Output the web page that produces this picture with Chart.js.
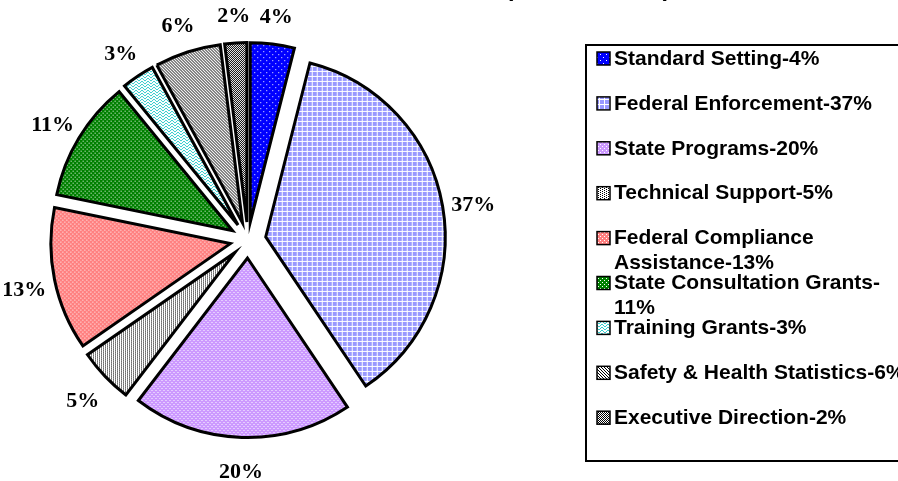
<!DOCTYPE html>
<html>
<head>
<meta charset="utf-8">
<script src="https://cdn.jsdelivr.net/npm/chart.js@4/dist/chart.umd.min.js"></script>
<style>
  html, body { margin: 0; padding: 0; background: #fff; }
</style>
</head>
<body>
<canvas id="budgetChart" width="898" height="481"></canvas>
<script>
// slice data
const categories = [
  'Standard Setting', 'Federal Enforcement', 'State Programs', 'Technical Support',
  'Federal Compliance Assistance', 'State Consultation Grants', 'Training Grants',
  'Safety & Health Statistics', 'Executive Direction'
];
const shares = [4, 37, 20, 5, 13, 11, 3, 6, 2];
const legendText = [
  'Standard Setting-4%', 'Federal Enforcement-37%', 'State Programs-20%', 'Technical Support-5%',
  'Federal Compliance\nAssistance-13%', 'State Consultation Grants-\n11%', 'Training Grants-3%',
  'Safety & Health Statistics-6%', 'Executive Direction-2%'
];
const subtitle = '(in thousands)';

const canvas = document.getElementById('budgetChart');
const ctx = canvas.getContext('2d');

// little tiled fills, roughly like the old Excel patterns
function makePattern(size, bg, fg, dots) {
  const tile = document.createElement('canvas');
  tile.width = size;
  tile.height = size;
  const g = tile.getContext('2d');
  g.fillStyle = bg;
  g.fillRect(0, 0, size, size);
  g.fillStyle = fg;
  dots.forEach(([x, y]) => g.fillRect(x, y, 1, 1));
  return ctx.createPattern(tile, 'repeat');
}

const fills = [
  makePattern(6, '#0000FF', '#ffffff', [[0, 0], [3, 3]]),
  makePattern(5, '#9999FF', '#ffffff', [[4, 0], [4, 1], [4, 2], [4, 3], [4, 4], [0, 4], [1, 4], [2, 4], [3, 4]]),
  makePattern(4, '#CC99FF', '#ffffff', [[0, 0], [2, 2]]),
  makePattern(4, '#ffffff', '#000000', [[0, 0], [2, 1], [0, 2], [2, 3]]),
  makePattern(4, '#FF8080', '#ffffff', [[0, 0], [2, 2]]),
  makePattern(4, '#008000', '#ffffff', [[0, 0], [2, 2]]),
  makePattern(6, '#ffffff', '#33CCCC', [[0, 1], [1, 0], [2, 0], [3, 1], [4, 2], [5, 2], [0, 4], [1, 3], [2, 3], [3, 4], [4, 5], [5, 5]]),
  makePattern(3, '#ffffff', '#000000', [[0, 0], [1, 1], [2, 2]]),
  makePattern(2, '#ffffff', '#000000', [[0, 0], [1, 1]])
];

const EXPLODE = 18;

// pull every slice outwards along its middle angle
const explodePlugin = {
  id: 'explode',
  beforeDatasetDraw(chart, args) {
    const c = chart.ctx;
    args.meta.data.forEach(arc => {
      const mid = (arc.startAngle + arc.endAngle) / 2;
      c.save();
      c.translate(Math.cos(mid) * EXPLODE, Math.sin(mid) * EXPLODE);
      arc.draw(c);
      c.restore();
    });
    return false;
  }
};

const labelPlugin = {
  id: 'pctLabels',
  afterDatasetsDraw(chart) {
    const c = chart.ctx;
    const meta = chart.getDatasetMeta(0);
    c.save();
    c.font = 'bold 22px "Liberation Serif", "Times New Roman", serif';
    c.fillStyle = '#000';
    c.textAlign = 'center';
    c.textBaseline = 'middle';
    meta.data.forEach((arc, i) => {
      const mid = (arc.startAngle + arc.endAngle) / 2;
      const dist = arc.outerRadius + EXPLODE + 31;
      c.fillText(shares[i] + '%', arc.x + Math.cos(mid) * dist, arc.y + Math.sin(mid) * dist + 4);
    });
    c.restore();
  }
};

const legendPlugin = {
  id: 'boxLegend',
  afterDraw(chart) {
    const c = chart.ctx;
    c.save();
    // title mostly sits above the page edge
    c.font = 'bold 24px "Liberation Sans", Arial, sans-serif';
    c.fillStyle = '#000';
    c.textAlign = 'center';
    c.textBaseline = 'alphabetic';
    c.fillText(subtitle, 588, -4);

    c.strokeStyle = '#000';
    c.lineWidth = 2;
    c.strokeRect(586, 45, 340, 416);

    c.textAlign = 'left';
    c.textBaseline = 'middle';
    c.font = 'bold 21px "Liberation Sans", Arial, sans-serif';
    legendText.forEach((txt, i) => {
      const y = 59 + i * 44.9;
      c.fillStyle = fills[i];
      c.fillRect(597, y - 7, 13, 13);
      c.lineWidth = 1.5;
      c.strokeRect(597, y - 7, 13, 13);
      c.fillStyle = '#000';
      txt.split('\n').forEach((line, k) => c.fillText(line, 614, y + k * 25));
    });
    c.restore();
  }
};

new Chart(ctx, {
  type: 'pie',
  data: {
    labels: categories,
    datasets: [{
      data: shares,
      backgroundColor: fills,
      borderColor: '#000',
      borderWidth: 3,
      hoverBorderWidth: 3,
      borderJoinStyle: 'miter',
      offset: 0,
      hoverOffset: 0
    }]
  },
  options: {
    responsive: false,
    animation: false,
    events: [],
    layout: { padding: { left: 67, top: 59, right: 469, bottom: 60 } },
    plugins: {
      legend: { display: false },
      tooltip: { enabled: false }
    }
  },
  plugins: [explodePlugin, labelPlugin, legendPlugin]
});
</script>
</body>
</html>
